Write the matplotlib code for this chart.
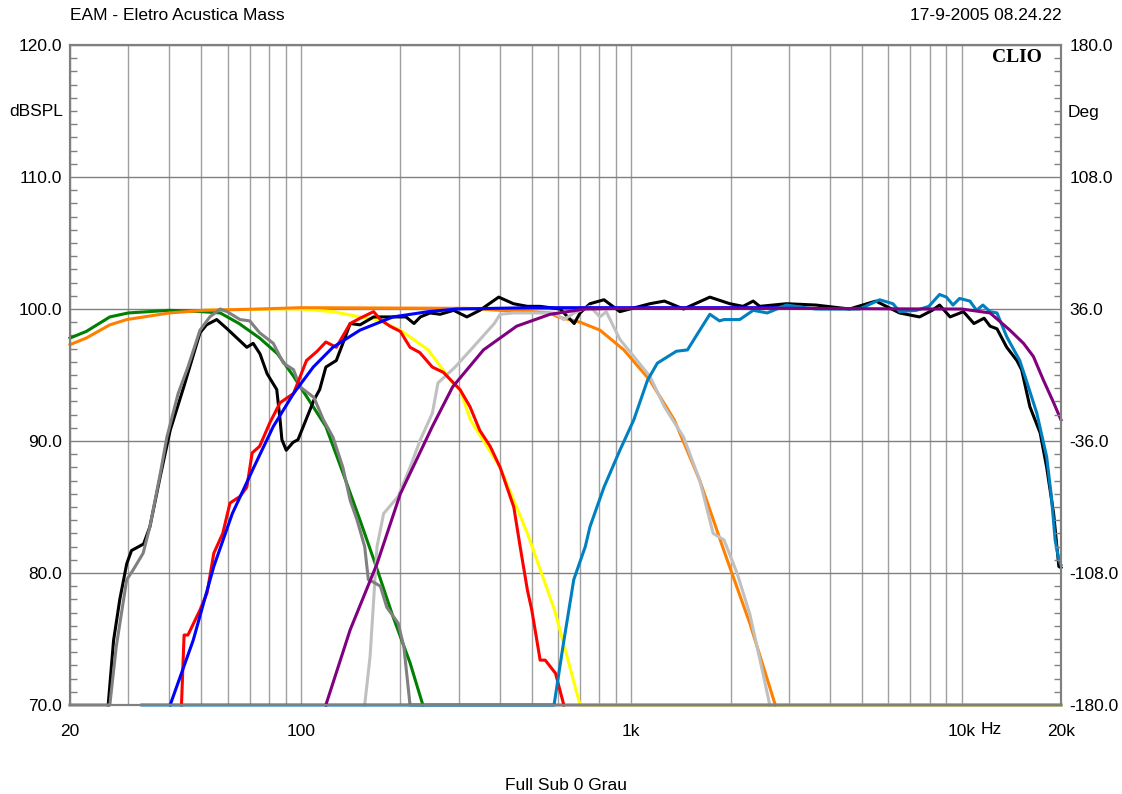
import matplotlib.pyplot as plt
import matplotlib.transforms as mtransforms
from matplotlib.ticker import MultipleLocator, NullLocator

plt.rcParams['font.family'] = ['Liberation Sans', 'DejaVu Sans']

# --- curves (Hz, dBSPL) ---
green_f = [20, 22.4, 26.4, 30, 40, 50, 57, 65, 75, 85, 95, 107, 119, 134, 151, 169, 190, 214, 234]
green_db = [97.8, 98.3, 99.4, 99.7, 99.9, 99.8, 99.7, 98.9, 97.8, 96.6, 94.9, 92.9, 91.1, 87.6, 84, 80.5, 76.7, 73.2, 70]

yellow_f = [52, 80, 100, 125, 151, 170, 200, 243, 288, 303, 326, 401, 485, 586, 700, 20000]
yellow_db = [99.9, 100, 100, 99.8, 99.4, 99.2, 98.4, 96.9, 94.4, 93.9, 91.6, 88, 83, 77.2, 70, 70]

orange_f = [20, 22.4, 26.4, 29.7, 40, 51, 75, 100, 320, 401, 500, 568, 600, 700, 804, 950, 1139, 1350,
            1613, 1920, 2285, 2730]
orange_db = [97.3, 97.8, 98.8, 99.2, 99.7, 99.9, 100, 100.1, 100.05, 99.9, 99.8, 99.7, 99.4, 99, 98.4,
             96.9, 94.6, 91.6, 87, 81.5, 76.2, 70]

black_f = [26.1, 27.1, 28.3, 29.7, 30.7, 33.4, 34.9, 37.5, 40.2, 44.2, 49.5, 51.8, 55.6, 59.8, 62.8,
           68.6, 71.7, 75.2, 79, 84.5, 86.5, 87.6, 90.3, 94.7, 98, 101.7, 109.5, 114, 119, 128, 134,
           141, 151, 166, 190, 208, 220, 230, 246, 264, 290, 318, 348, 397, 440, 485, 530, 609, 672,
           700, 750, 827, 924, 1139, 1260, 1440, 1730, 1988, 2180, 2340, 2450, 2950, 3620, 4580, 5500,
           6490, 7460, 8150, 8580, 9230, 10130, 10900, 11700, 12200, 12800, 13700, 14700, 15200, 16100,
           17300, 18100, 19000, 19700, 20000]
black_db = [70, 74.9, 78, 80.7, 81.7, 82.2, 83.5, 87.3, 90.8, 94.1, 98.2, 98.8, 99.2, 98.5, 98,
            97.1, 97.4, 96.6, 95.1, 93.9, 91.6, 90.1, 89.3, 89.9, 90.1, 91.1, 93.1, 93.9, 95.6, 96.1, 97.4,
            98.9, 98.8, 99.4, 99.4, 99.4, 98.9, 99.4, 99.7, 99.6, 99.9, 99.4, 99.9, 100.9, 100.4, 100.2, 100.2, 100, 98.9,
            99.7, 100.4, 100.7, 99.8, 100.4, 100.6, 100, 100.9, 100.4, 100.2, 100.6, 100.2, 100.4, 100.3, 100, 100.6,
            99.7, 99.4, 99.9, 100.3, 99.4, 99.8, 98.9, 99.3, 98.7, 98.5, 97.1, 96.1, 95.4, 92.6,
            90.6, 88, 84.5, 80.5, 80.4]

lgray_f = [156, 162, 170, 178, 197, 214, 230, 250, 260, 293, 332, 385, 401, 440, 500, 585, 625, 672,
           750, 804, 840, 924, 1018, 1139, 1260, 1440, 1613, 1770, 1910, 2090, 2285, 2530, 2626]
lgray_db = [70, 73.7, 82, 84.5, 85.8, 88, 90.1, 92.1, 94.4, 95.6, 97.1, 98.9, 99.6, 99.7, 99.7, 99.7, 99.2, 99.7,
            100.2, 99.4, 99.8, 97.7, 96.4, 94.9, 92.6, 90.3, 87, 83, 82.5, 80, 76.9, 71.9, 70]

dgray_f = [20, 26.4, 27.6, 29.7, 31, 33.3, 34.9, 37.5, 39.3, 42.5, 45.5, 49.5, 53, 57, 59.8, 65.4, 70, 75,
           82.5, 88.5, 95, 99.4, 109.5, 117, 125, 134, 141, 148, 156, 160, 166, 174, 182, 197, 205, 214, 20000]
dgray_db = [70, 70, 74.4, 79.5, 80.2, 81.5, 83.5, 87.5, 90.3, 93.6, 95.6, 98.4, 99.4, 100, 99.8, 99.2, 99.1, 98.2,
            97.4, 95.9, 95.4, 94.1, 93.3, 91.6, 90.3, 88, 85.5, 84, 82, 79.5, 79.3, 79, 77.4, 76.2, 74.4, 70, 70]

red_f = [43.5, 44.3, 45.5, 49.5, 52, 54.5, 58, 61, 65.4, 68.6, 71.2, 75, 80.6, 86.5, 95, 104, 112, 119,
         128, 141, 151, 166, 174, 186, 200, 214, 229, 250, 270, 303, 325, 348, 374, 401, 441, 461, 485,
         500, 530, 549, 590, 625]
red_db = [70, 75.3, 75.3, 77.2, 78.5, 81.5, 83, 85.3, 85.8, 86.5, 89.1, 89.6, 91.4, 92.9, 93.6, 96.1, 96.8, 97.5,
          97.1, 98.9, 99.3, 99.8, 99.2, 98.7, 98.3, 97.1, 96.7, 95.6, 95.2, 93.9, 92.6, 90.8, 89.6, 88, 85, 82, 78.7,
          77.2, 73.4, 73.4, 72.4, 70]

blue_f = [40.2, 47.2, 54.5, 62, 72, 82.5, 95, 109, 125, 151, 190, 243, 296, 500, 1000, 3000]
blue_db = [70, 74.9, 80.5, 84.5, 88, 91.1, 93.6, 95.6, 97.1, 98.4, 99.4, 99.8, 100, 100.1, 100.1, 100.1]

lblue_f = [33, 584, 621, 670, 726, 750, 827, 924, 1018, 1120, 1200, 1370, 1480, 1613, 1730, 1850, 1910,
           2131, 2340, 2580, 2950, 3620, 4280, 4910, 5650, 6200, 6490, 7300, 7960, 8580, 9000, 9420,
           9860, 10600, 11100, 11600, 12200, 12800, 13700, 15000, 15700, 16900, 18100, 18700, 19200, 19700, 20000]
lblue_db = [70, 70, 74.4, 79.5, 82, 83.5, 86.5, 89.3, 91.6, 94.6, 95.9, 96.8, 96.9, 98.4, 99.6, 99.1, 99.2,
            99.2, 99.9, 99.7, 100.3, 100, 100, 100, 100.7, 100.4, 99.8, 99.9, 100.2, 101.1, 100.9, 100.3,
            100.8, 100.6, 99.9, 100.3, 99.8, 99.7, 97.9, 96.1, 94.6, 92.1, 88.8, 85.8, 82.5, 81, 80.6]

purple_f = [119, 141, 170, 200, 250, 288, 357, 450, 568, 725, 1000, 3000, 8000, 10000, 12200, 14000,
            15400, 16500, 17700, 19000, 20000]
purple_db = [70, 75.7, 80.7, 86, 91.1, 94.1, 96.9, 98.7, 99.6, 100, 100.05, 100.05, 100, 100, 99.7, 98.4,
             97.4, 96.4, 94.6, 92.9, 91.6]

# drawing order: first = bottom
series = [
    (yellow_f, yellow_db, '#ffff00'),
    (green_f, green_db, '#008000'),
    (orange_f, orange_db, '#ff8000'),
    (black_f, black_db, '#000000'),
    (lgray_f, lgray_db, '#c0c0c0'),
    (dgray_f, dgray_db, '#808080'),
    (red_f, red_db, '#ff0000'),
    (blue_f, blue_db, '#0000ff'),
    (lblue_f, lblue_db, '#0080c0'),
    (purple_f, purple_db, '#800080'),
]

fig = plt.figure(figsize=(11.22, 7.94), dpi=100)
ax = fig.add_axes([70 / 1122, 1 - 705 / 794, 991 / 1122, 660 / 794])
ax.set_xscale('log')
ax.set_xlim(20, 20000)
ax.set_ylim(70, 120)

grid_f = [20, 30, 40, 50, 60, 70, 80, 90, 100, 200, 300, 400, 500, 600, 700, 800, 900,
          1000, 2000, 3000, 4000, 5000, 6000, 7000, 8000, 9000, 10000, 20000]
for g in grid_f:
    ax.axvline(g, color='#a0a0a0', lw=1, zorder=0)
for v in range(70, 121, 10):
    ax.axhline(v, color='#808080', lw=1, zorder=0)

for f, db, c in series:
    ax.plot(f, db, color=c, lw=2.2, clip_on=False, solid_joinstyle='round')

ax.set_xticks([20, 100, 1000, 10000, 20000], labels=['20', '100', '1k', '10k', '20k'])
ax.xaxis.set_minor_locator(NullLocator())
ax.tick_params(axis='x', length=0, pad=14, labelsize=12.5)

ax.set_yticks(range(70, 121, 10), labels=['%.1f' % v for v in range(70, 121, 10)])
ax.yaxis.set_minor_locator(MultipleLocator(1))
ax.tick_params(axis='y', which='major', length=0, pad=6, labelsize=12.5)
ax.tick_params(axis='y', which='minor', direction='in', length=5, color='#808080', width=1)

ax2 = ax.twinx()
ax2.set_ylim(-180, 180)
deg = [-180, -108, -36, 36, 108, 180]
ax2.set_yticks(deg, labels=['%.1f' % d for d in deg])
ax2.yaxis.set_minor_locator(MultipleLocator(7.2))
ax2.tick_params(axis='y', which='major', length=0, pad=6, labelsize=12.5)
ax2.tick_params(axis='y', which='minor', direction='in', length=5, color='#808080', width=1)

for a in (ax, ax2):
    for s in a.spines.values():
        s.set_color('#808080')
        s.set_linewidth(1.5)

fig.text(70 / 1122, 1 - 16 / 794, 'EAM - Eletro Acustica Mass', ha='left', va='center', fontsize=12.5)
fig.text(1062 / 1122, 1 - 16 / 794, '17-9-2005 08.24.22', ha='right', va='center', fontsize=12.5)
fig.text(63 / 1122, 1 - 112 / 794, 'dBSPL', ha='right', va='center', fontsize=12.5)
fig.text(1068 / 1122, 1 - 112 / 794, 'Deg', ha='left', va='center', fontsize=12.5)
fig.text(566 / 1122, 1 - 785 / 794, 'Full Sub 0 Grau', ha='center', va='center', fontsize=12.5)
fig.text(1042 / 1122, 1 - 58 / 794, 'CLIO', ha='right', va='center', fontsize=14,
         family='Liberation Serif', weight='bold')
trans = mtransforms.blended_transform_factory(ax.transData, fig.transFigure)
ax.text(12300, 1 - 730 / 794, 'Hz', transform=trans, ha='center', va='center', fontsize=12.5)

fig.savefig('out.png', dpi=100)
